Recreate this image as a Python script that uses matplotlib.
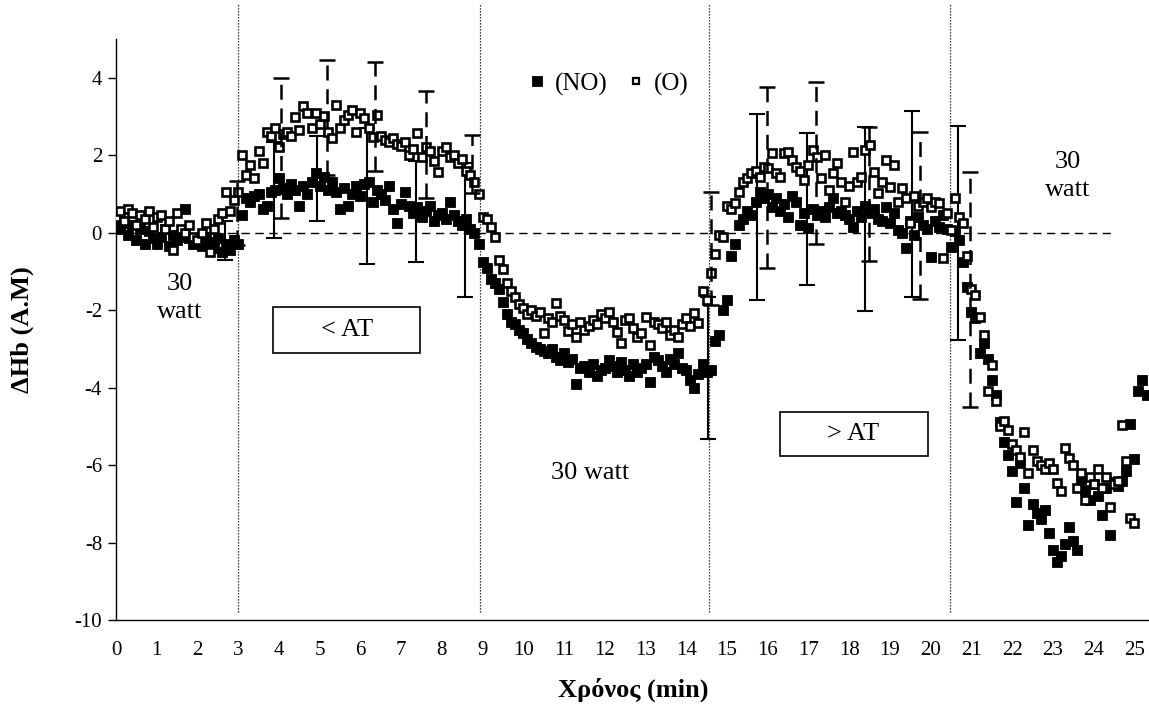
import numpy as np
import matplotlib
matplotlib.use('Agg')
import matplotlib.pyplot as plt
from matplotlib.patches import Rectangle
from matplotlib.lines import Line2D

plt.rcParams['font.family'] = ['Liberation Serif', 'DejaVu Serif']

# ---------------- data ----------------
sample_step = 0.1  # min between samples

no_values = [
    0.35, 0.10, 0.25, -0.05, 0.20, -0.20, 0.10, -0.30, 0.05, -0.15,
    -0.30, -0.10, 0.10, -0.35, -0.05, -0.20, -0.10, 0.60, -0.15, -0.30,
    -0.20, -0.35, -0.10, -0.25, -0.40, -0.15, -0.50, -0.30, -0.45, -0.20,
    -0.30, 0.45, 0.90, 0.80, 0.95, 1.00, 0.60, 0.70, 1.05, 1.10,
    1.40, 1.15, 1.00, 1.25, 1.10, 0.70, 1.20, 1.00, 1.30, 1.55,
    1.20, 1.45, 1.10, 1.30, 1.05, 0.60, 1.15, 0.70, 1.00, 1.20,
    0.95, 1.25, 1.30, 0.80, 1.10, 1.00, 0.85, 1.20, 0.60, 0.25,
    0.75, 1.05, 0.70, 0.50, 0.65, 0.40, 0.55, 0.70, 0.30, 0.45,
    0.50, 0.35, 0.80, 0.45, 0.30, 0.20, 0.35, 0.10, 0.00, -0.30,
    -0.75, -0.90, -1.20, -1.30, -1.45, -1.80, -2.10, -2.30, -2.35, -2.50,
    -2.60, -2.75, -2.85, -2.95, -3.00, -3.05, -3.10, -3.00, -3.20, -3.30,
    -3.10, -3.35, -3.25, -3.90, -3.50, -3.45, -3.60, -3.40, -3.70, -3.55,
    -3.50, -3.30, -3.45, -3.60, -3.35, -3.55, -3.70, -3.40, -3.60, -3.50,
    -3.40, -3.85, -3.20, -3.30, -3.45, -3.60, -3.25, -3.40, -3.10, -3.50,
    -3.55, -3.80, -4.00, -3.65, -3.40, -3.60, -3.55, -2.80, -2.65, -2.00,
    -1.75, -0.60, -0.30, 0.20, 0.35, 0.55, 0.45, 0.80, 1.05, 0.90,
    1.00, 0.65, 0.90, 0.55, 0.75, 0.40, 0.95, 0.80, 0.20, 0.50,
    0.12, 0.60, 0.45, 0.55, 0.40, 0.65, 0.90, 0.50, 0.55, 0.45,
    0.35, 0.15, 0.55, 0.40, 0.70, 0.50, 0.60, 0.35, 0.30, 0.65,
    0.25, 0.50, 0.07, 0.00, -0.40, 0.30, -0.05, 0.40, 0.20, 0.10,
    -0.63, 0.30, 0.15, 0.45, 0.10, -0.37, 0.05, -0.20, -0.75, -1.40,
    -2.05, -2.20, -3.10, -2.85, -3.25, -3.80, -4.20, -4.90, -5.40, -5.75,
    -6.15, -6.95, -5.95, -6.60, -7.55, -7.00, -7.25, -7.40, -7.15, -7.75,
    -8.20, -8.50, -8.35, -8.05, -7.60, -7.95, -8.20, -6.35, -6.65, -6.90,
    -6.50, -6.80, -7.30, -6.60, -7.80, -6.45, -6.55, -6.40, -6.15, -4.95,
    -5.85, -4.10, -3.80, -4.20,
]

o_values = [
    0.40, 0.55, 0.30, 0.60, 0.50, 0.20, 0.45, 0.35, 0.55, 0.15,
    0.40, 0.45, 0.10, 0.30, -0.45, 0.50, 0.10, 0.00, 0.20, -0.10,
    -0.20, 0.00, 0.25, -0.50, 0.10, 0.35, 0.50, 1.05, 0.55, 0.85,
    1.05, 2.00, 1.50, 1.75, 1.40, 2.10, 1.80, 2.60, 2.50, 2.70,
    2.20, 2.55, 2.60, 2.50, 2.98, 2.65, 3.26, 3.10, 2.70, 3.10,
    2.80, 3.00, 2.60, 2.45, 3.29, 2.70, 2.90, 3.05, 3.16, 2.60,
    3.10, 2.95, 2.70, 2.47, 3.05, 2.50, 2.40, 2.35, 2.45, 2.30,
    2.25, 2.35, 2.00, 2.15, 2.57, 1.95, 2.20, 2.10, 1.85, 1.56,
    2.10, 2.20, 1.95, 2.00, 1.80, 1.90, 1.60, 1.50, 1.30, 1.00,
    0.40, 0.35, 0.15, -0.10, -0.70, -0.95, -1.30, -1.50, -1.65, -1.85,
    -1.95, -2.10, -2.00, -2.15, -2.05, -2.60, -2.20, -2.30, -1.82, -2.15,
    -2.25, -2.55, -2.35, -2.70, -2.30, -2.50, -2.40, -2.25, -2.35, -2.10,
    -2.20, -2.05, -2.30, -2.56, -2.85, -2.25, -2.20, -2.45, -2.70, -2.60,
    -2.17, -2.90, -2.30, -2.35, -2.45, -2.30, -2.65, -2.50, -2.70, -2.35,
    -2.20, -2.40, -2.08, -2.33, -1.50, -1.75, -1.04, -0.55, -0.05, -0.10,
    0.70, 0.60, 0.76, 1.05, 1.30, 1.40, 1.55, 1.60, 1.45, 1.70,
    1.67, 2.05, 1.55, 1.44, 2.05, 2.08, 1.88, 1.70, 1.60, 1.36,
    1.75, 2.13, 1.95, 1.40, 2.00, 1.10, 1.54, 1.80, 1.30, 0.79,
    1.20, 2.08, 1.30, 1.44, 2.13, 2.26, 1.57, 1.02, 1.30, 1.88,
    1.18, 1.75, 0.80, 1.15, 0.90, 0.25, 0.95, 0.70, 0.80, 0.90,
    0.66, 0.80, 0.76, -0.65, 0.50, 0.07, 0.90, 0.40, 0.25, -0.60,
    -1.45, -1.60, -2.18, -2.64, -4.10, -3.41, -4.35, -5.00, -4.85, -5.10,
    -5.45, -5.60, -5.78, -5.15, -6.20, -5.60, -5.90, -6.00, -6.10, -5.95,
    -6.10, -6.46, -6.68, -5.55, -5.82, -6.00, -6.60, -6.20, -6.90, -6.30,
    -6.50, -6.10, -6.60, -6.30, -7.08, -6.50, -6.40, -4.96, -5.90, -7.36,
    -7.50,
]

# error bars (mean +/- SD) at selected times
err_no_time = [2.68, 3.88, 4.93, 6.16, 7.36, 8.57, 14.53, 15.73, 16.96, 18.38, 19.54, 20.67]
err_no_mean = [-0.20, 1.10, 1.40, 0.95, 0.55, 0.07, -3.49, 0.66, 0.61, 0.36, 0.74, 0.00]
err_no_sd = [0.50, 1.23, 1.10, 1.75, 1.30, 1.73, 1.83, 2.40, 1.96, 2.37, 2.40, 2.76]

err_o_time = [2.97, 4.05, 5.18, 6.36, 7.61, 8.74, 14.60, 15.98, 17.18, 18.48, 19.73, 20.96]
err_o_mean = [0.50, 2.19, 2.97, 3.00, 2.28, 1.77, -0.41, 1.42, 1.80, 1.00, 0.45, -1.47]
err_o_sd = [0.83, 1.81, 1.48, 1.40, 1.38, 0.75, 1.45, 2.33, 2.10, 1.73, 2.15, 3.03]

phase_bounds = [3.0, 8.93, 14.56, 20.47]
x_ticks = list(range(0, 26))
y_ticks = [-10, -8, -6, -4, -2, 0, 2, 4]

time_no = np.round(np.arange(len(no_values)) * sample_step, 2)
time_o = np.round(np.arange(len(o_values)) * sample_step, 2)

# ---------------- figure ----------------
W, H = 1149, 708
fig = plt.figure(figsize=(W / 100, H / 100), dpi=100)
ax = fig.add_axes([116 / W, (H - 620) / H, (W - 116) / W, (620 - 39) / H])
ax.set_xlim(0, 25.36)
ax.set_ylim(-10, 5)

# markers
ax.plot(time_no, no_values, linestyle='none', marker='s', ms=7.4,
        mfc='black', mec='black', mew=0.6, zorder=3)
ax.plot(time_o, o_values, linestyle='none', marker='s', ms=6.2,
        mfc='white', mec='black', mew=1.9, zorder=4)

# error bars
eb_no = ax.errorbar(err_no_time, err_no_mean, yerr=err_no_sd, fmt='none',
                    ecolor='black', elinewidth=1.5, capsize=5.5, capthick=1.5, zorder=3.5)
eb_o = ax.errorbar(err_o_time, err_o_mean, yerr=err_o_sd, fmt='none',
                   ecolor='black', elinewidth=1.8, capsize=5.5, capthick=1.8, zorder=4.5)
eb_o[2][0].set_linestyle((0, (6, 3.5)))

# zero line
ax.plot([0, 24.45], [0, 0], color='black', lw=1.0, ls=(0, (6, 4)), zorder=2)

# phase boundaries (dotted)
for xb in phase_bounds:
    ax.plot([xb, xb], [-9.8, 5.9], color='black', lw=0.9, ls=(0, (1, 1.4)),
            clip_on=False, zorder=1)

# axes styling
for s in ['top', 'right']:
    ax.spines[s].set_visible(False)
ax.spines['left'].set_linewidth(1.0)
ax.spines['bottom'].set_linewidth(1.0)
ax.set_xticks(x_ticks)
ax.set_xticklabels([str(v) for v in x_ticks])
ax.set_yticks(y_ticks)
ax.set_yticklabels([str(v) for v in y_ticks])
ax.tick_params(axis='x', length=0, pad=15, labelsize=15)
ax.tick_params(axis='y', direction='out', length=6, width=1.0, pad=4, labelsize=15)

# annotations
txt_kw = dict(fontsize=19, ha='center', va='center', zorder=6)
ax.text(1.57, -1.33, '30', **txt_kw)
ax.text(1.57, -2.05, 'watt', **txt_kw)
ax.text(11.63, -6.20, '30 watt', **txt_kw)
ax.text(23.37, 1.82, '30', **txt_kw)
ax.text(23.37, 1.10, 'watt', **txt_kw)

ax.add_patch(Rectangle((3.85, -3.11), 3.61, 1.19, fill=False, ec='black', lw=1.2, zorder=6))
ax.text(5.67, -2.51, '< AT', **txt_kw)
ax.add_patch(Rectangle((16.30, -5.76), 3.63, 1.13, fill=False, ec='black', lw=1.2, zorder=6))
ax.text(18.09, -5.20, '> AT', **txt_kw)

# legend
handles = [
    Line2D([], [], linestyle='none', marker='s', ms=6.6, mfc='black', mec='black', mew=0.6),
    Line2D([], [], linestyle='none', marker='s', ms=5.0, mfc='white', mec='black', mew=1.6),
]
leg = ax.legend(handles, ['(NO)', '(O)'], ncol=2, loc='center',
                bbox_to_anchor=(0.476, 0.9226), frameon=False, fontsize=18,
                handlelength=0.8, handletextpad=0.3, columnspacing=0.75,
                borderpad=0, borderaxespad=0)

# axis labels
fig.text(633 / W, 1 - 690 / H, 'Χρόνος (min)', ha='center', va='center',
         fontsize=19, fontweight='bold')
fig.text(22 / W, 1 - 330 / H, 'ΔHb (A.M)', ha='center', va='center',
         rotation=90, fontsize=19, fontweight='bold')

fig.savefig('out.png', dpi=100)
